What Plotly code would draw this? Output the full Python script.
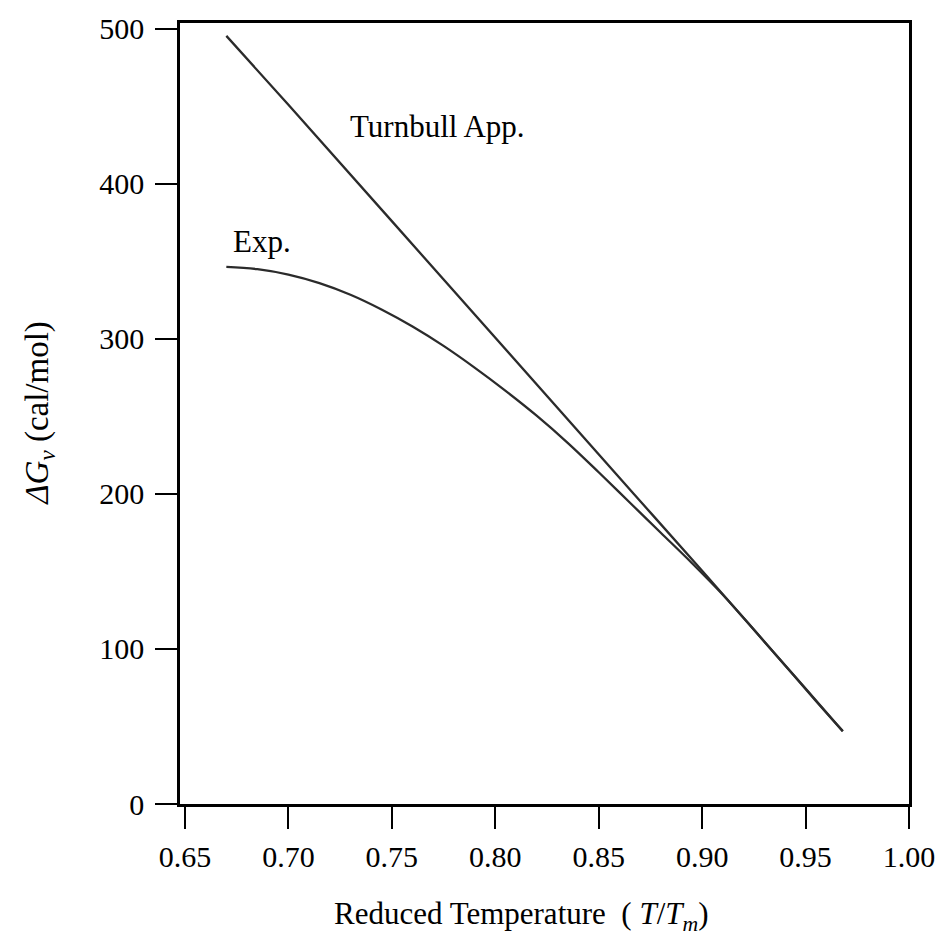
import plotly.graph_objects as go

# Data
turnbull_x = [0.670, 0.700, 0.750, 0.800, 0.850, 0.867, 0.876, 0.900, 0.950, 0.968]
turnbull_y = [495.5, 451, 376, 300.5, 225.5, 200, 186.5, 150.5, 74.5, 47]

exp_x = [0.670, 0.685, 0.700, 0.715, 0.730, 0.745, 0.760, 0.775, 0.790, 0.805,
         0.820, 0.835, 0.850, 0.865, 0.880, 0.895, 0.910, 0.925, 0.940, 0.955, 0.968]
exp_y = [346.5, 345, 341.5, 336, 328.5, 319, 308, 295.5, 281.5, 266.5,
         250.5, 233, 214, 194.5, 175, 155.5, 135, 112.5, 89.5, 66.5, 47]

x_ticks = [0.65, 0.70, 0.75, 0.80, 0.85, 0.90, 0.95, 1.00]
x_ticktext = ["0.65", "0.70", "0.75", "0.80", "0.85", "0.90", "0.95", "1.00"]
y_ticks = [0, 100, 200, 300, 400, 500]
y_ticktext = ["0", "100", "200", "300", "400", "500"]

FONT = "Liberation Serif"
LINE_COLOR = "#2b2b2b"

fig = go.Figure()
fig.add_trace(go.Scatter(x=turnbull_x, y=turnbull_y, mode="lines",
                         line=dict(color=LINE_COLOR, width=2.3), showlegend=False,
                         name="Turnbull App."))
fig.add_trace(go.Scatter(x=exp_x, y=exp_y, mode="lines",
                         line=dict(color=LINE_COLOR, width=2.3, shape="spline", smoothing=1.0),
                         showlegend=False, name="Exp."))

fig.add_annotation(x=0.772, y=437, text="Turnbull App.", showarrow=False,
                   font=dict(family=FONT, size=31, color="black"), xanchor="center", yanchor="middle")
fig.add_annotation(x=0.687, y=363, text="Exp.", showarrow=False,
                   font=dict(family=FONT, size=31, color="black"), xanchor="center", yanchor="middle")

# axis titles
fig.add_annotation(xref="paper", yref="paper", x=0.469, y=-0.1436,
                   text="Reduced Temperature  ( <i>T</i>/<i>T<sub>m</sub></i>)",
                   showarrow=False, xanchor="center", yanchor="middle",
                   font=dict(family=FONT, size=31, color="black"))
fig.add_annotation(xref="paper", yref="paper", x=-0.193, y=0.5,
                   text="<i>ΔG<sub>v</sub></i> (cal/mol)", textangle=-90,
                   showarrow=False, xanchor="center", yanchor="middle",
                   font=dict(family=FONT, size=33, color="black"))

fig.update_layout(
    width=947, height=945,
    margin=dict(l=180, r=32, t=17, b=141),
    paper_bgcolor="white", plot_bgcolor="white",
    font=dict(family=FONT, size=30, color="black"),
    xaxis=dict(range=[0.6476, 1.0], tickvals=x_ticks, ticktext=x_ticktext,
               showline=True, linecolor="black", linewidth=2.5, mirror=True,
               ticks="outside", ticklen=22, tickwidth=2.2, tickcolor="black",
               showgrid=False, zeroline=False, ticklabelstandoff=2,
               tickfont=dict(family=FONT, size=30)),
    yaxis=dict(range=[0, 503.8], tickvals=y_ticks, ticktext=y_ticktext,
               showline=True, linecolor="black", linewidth=2.5, mirror=True,
               ticks="outside", ticklen=22, tickwidth=2.2, tickcolor="black",
               showgrid=False, zeroline=False, ticklabelstandoff=5,
               tickfont=dict(family=FONT, size=30)),
)

fig.write_html("out.html")
